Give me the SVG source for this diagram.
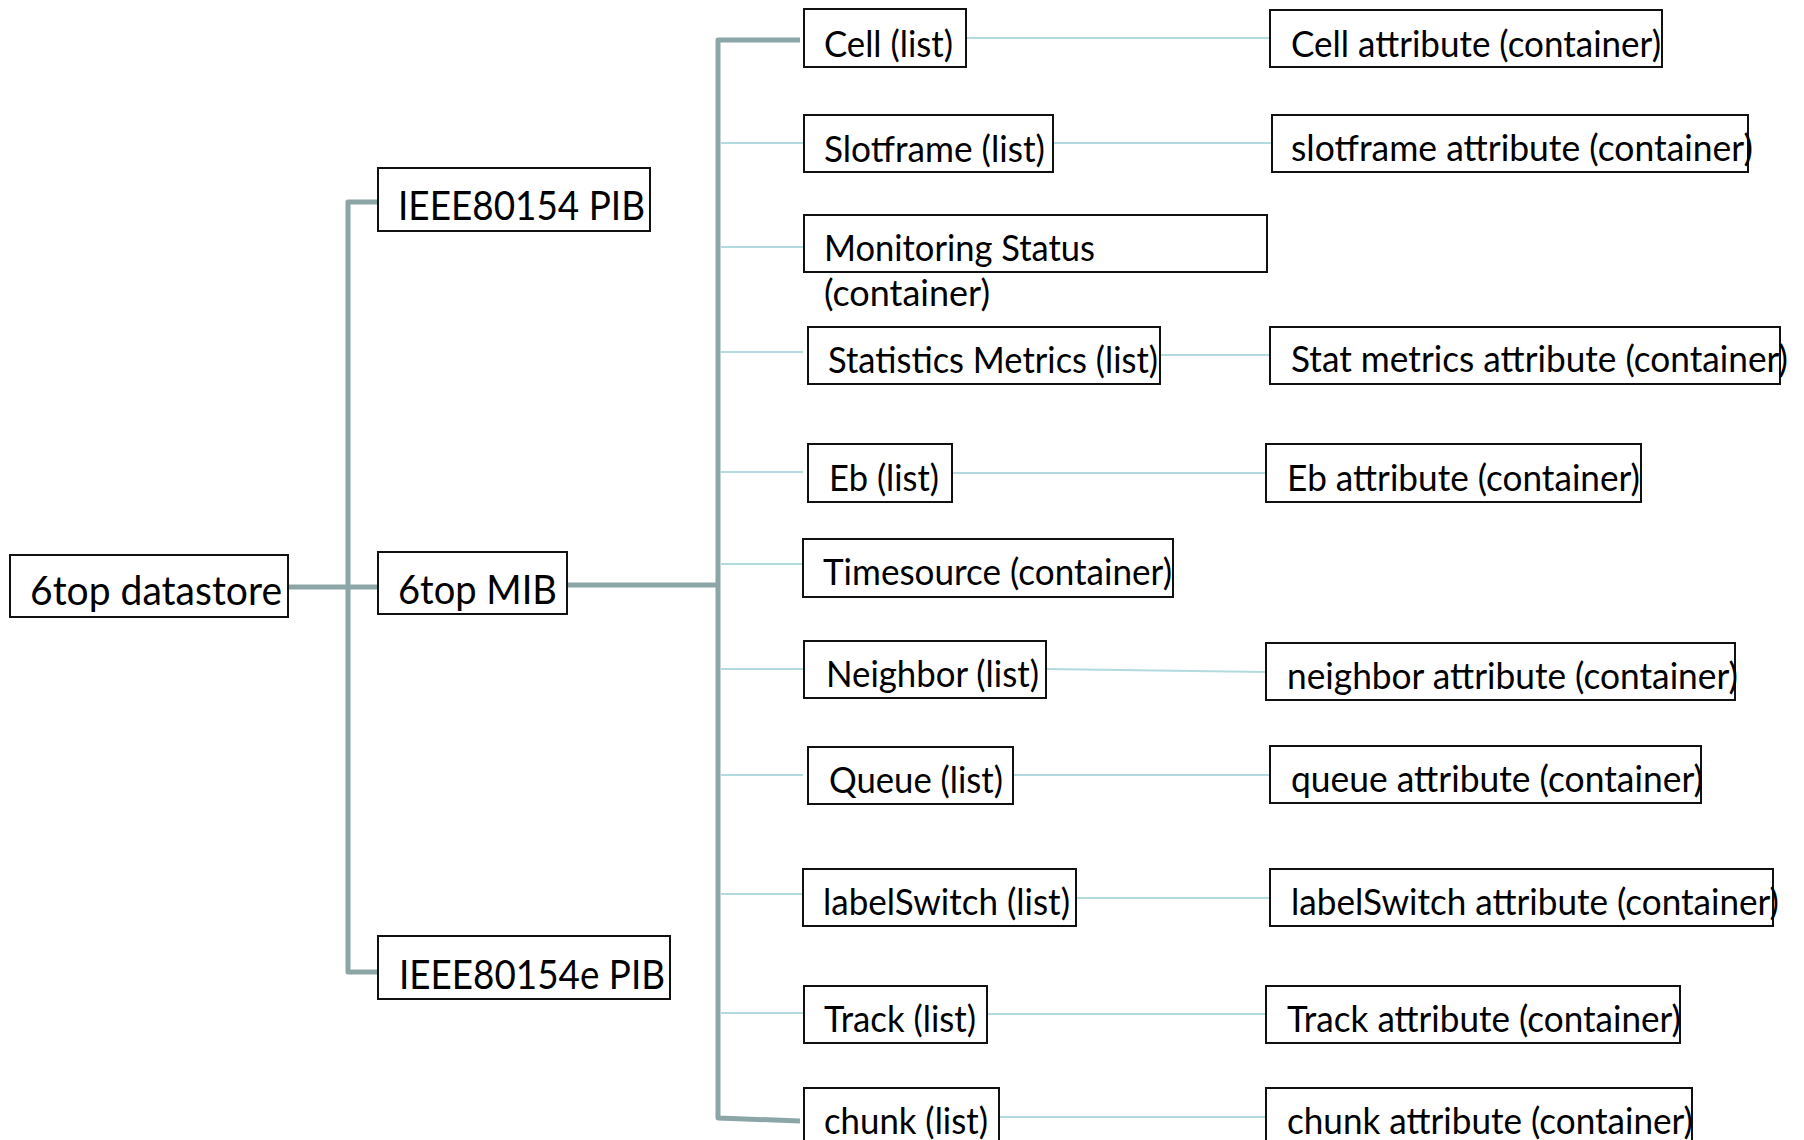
<svg xmlns="http://www.w3.org/2000/svg" width="1804" height="1140" viewBox="0 0 1804 1140">
  <style>
    .box { fill: #ffffff; stroke: #111111; stroke-width: 2; }
    .lbl { font-family: Lato, "Open Sans", "Liberation Sans", sans-serif; font-size: 36px; fill: #000000; }
    .big { font-size: 41px; }
    .trunk { fill: none; stroke: #8ca6a8; stroke-width: 5; stroke-linejoin: round; }
    .twig { fill: none; stroke: #b3dade; stroke-width: 2; }
  </style>
  <rect width="1804" height="1140" fill="#ffffff"/>

  <!-- connectors -->
  <g id="connectors">
    <path class="trunk" d="M378,202 H348 V972 H378"/>
    <path class="trunk" d="M288,587 H378"/>
    <path class="trunk" d="M567,585 H718"/>
    <path class="trunk" d="M800,40 H718 V1118 L800,1121"/>
    <path class="twig" d="M721,143 H803 M721,247 H803 M721,352 H803 M721,472 H803 M721,564 H803 M721,669 H803 M721,775 H803 M721,894 H803 M721,1013 H803"/>
    <path class="twig" d="M966,38 H1270"/>
    <path class="twig" d="M1053,143 H1272"/>
    <path class="twig" d="M1160,355 H1270"/>
    <path class="twig" d="M952,473 H1266"/>
    <path class="twig" d="M1046,669 L1266,672"/>
    <path class="twig" d="M1013,775 H1270"/>
    <path class="twig" d="M1076,898 H1270"/>
    <path class="twig" d="M987,1014 H1266"/>
    <path class="twig" d="M999,1117 H1266"/>
  </g>

  <!-- first tier -->
  <g id="datastore">
    <rect class="box" x="10" y="555" width="278" height="62"/>
    <text class="lbl big" x="30" y="605" textLength="252" lengthAdjust="spacingAndGlyphs">6top datastore</text>
  </g>
  <g id="pib">
    <rect class="box" x="378" y="168" width="272" height="63"/>
    <text class="lbl big" x="398" y="220" textLength="247" lengthAdjust="spacingAndGlyphs">IEEE80154 PIB</text>
  </g>
  <g id="mib">
    <rect class="box" x="378" y="552" width="189" height="62"/>
    <text class="lbl big" x="398" y="604" textLength="159" lengthAdjust="spacingAndGlyphs">6top MIB</text>
  </g>
  <g id="pib-e">
    <rect class="box" x="378" y="936" width="292" height="63"/>
    <text class="lbl big" x="399" y="989" textLength="266" lengthAdjust="spacingAndGlyphs">IEEE80154e PIB</text>
  </g>

  <!-- MIB entries -->
  <g id="cell">
    <rect class="box" x="804" y="9" width="162" height="58"/>
    <text class="lbl" x="824" y="57" textLength="129" lengthAdjust="spacingAndGlyphs">Cell (list)</text>
  </g>
  <g id="slotframe">
    <rect class="box" x="804" y="115" width="249" height="57"/>
    <text class="lbl" x="824" y="162" textLength="221" lengthAdjust="spacingAndGlyphs">Slotframe (list)</text>
  </g>
  <g id="monitoring">
    <rect class="box" x="804" y="215" width="463" height="57"/>
    <text class="lbl" x="824" y="261" textLength="271" lengthAdjust="spacingAndGlyphs">Monitoring Status</text>
    <text class="lbl" x="824" y="306" textLength="166" lengthAdjust="spacingAndGlyphs">(container)</text>
  </g>
  <g id="statistics">
    <rect class="box" x="808" y="327" width="352" height="57"/>
    <text class="lbl" x="828" y="373" textLength="330" lengthAdjust="spacingAndGlyphs">Statistics Metrics (list)</text>
  </g>
  <g id="eb">
    <rect class="box" x="808" y="444" width="144" height="58"/>
    <text class="lbl" x="829" y="491" textLength="110" lengthAdjust="spacingAndGlyphs">Eb (list)</text>
  </g>
  <g id="timesource">
    <rect class="box" x="803" y="539" width="370" height="58"/>
    <text class="lbl" x="823" y="585" textLength="349" lengthAdjust="spacingAndGlyphs">Timesource (container)</text>
  </g>
  <g id="neighbor">
    <rect class="box" x="804" y="641" width="242" height="57"/>
    <text class="lbl" x="826" y="687" textLength="213" lengthAdjust="spacingAndGlyphs">Neighbor (list)</text>
  </g>
  <g id="queue">
    <rect class="box" x="808" y="747" width="205" height="57"/>
    <text class="lbl" x="829" y="793" textLength="174" lengthAdjust="spacingAndGlyphs">Queue (list)</text>
  </g>
  <g id="labelswitch">
    <rect class="box" x="803" y="869" width="273" height="57"/>
    <text class="lbl" x="823" y="915" textLength="247" lengthAdjust="spacingAndGlyphs">labelSwitch (list)</text>
  </g>
  <g id="track">
    <rect class="box" x="804" y="986" width="183" height="57"/>
    <text class="lbl" x="824" y="1032" textLength="152" lengthAdjust="spacingAndGlyphs">Track (list)</text>
  </g>
  <g id="chunk">
    <rect class="box" x="804" y="1088" width="195" height="60"/>
    <text class="lbl" x="824" y="1134" textLength="164" lengthAdjust="spacingAndGlyphs">chunk (list)</text>
  </g>

  <!-- attribute containers -->
  <g id="cell-attr">
    <rect class="box" x="1270" y="10" width="392" height="57"/>
    <text class="lbl" x="1291" y="57" textLength="370" lengthAdjust="spacingAndGlyphs">Cell attribute (container)</text>
  </g>
  <g id="slotframe-attr">
    <rect class="box" x="1272" y="115" width="476" height="57"/>
    <text class="lbl" x="1291" y="161" textLength="462" lengthAdjust="spacingAndGlyphs">slotframe attribute (container)</text>
  </g>
  <g id="stat-attr">
    <rect class="box" x="1270" y="327" width="510" height="57"/>
    <text class="lbl" x="1291" y="372" textLength="497" lengthAdjust="spacingAndGlyphs">Stat metrics attribute (container)</text>
  </g>
  <g id="eb-attr">
    <rect class="box" x="1266" y="444" width="375" height="58"/>
    <text class="lbl" x="1287" y="491" textLength="353" lengthAdjust="spacingAndGlyphs">Eb attribute (container)</text>
  </g>
  <g id="neighbor-attr">
    <rect class="box" x="1266" y="643" width="469" height="57"/>
    <text class="lbl" x="1287" y="689" textLength="451" lengthAdjust="spacingAndGlyphs">neighbor attribute (container)</text>
  </g>
  <g id="queue-attr">
    <rect class="box" x="1270" y="746" width="431" height="57"/>
    <text class="lbl" x="1291" y="792" textLength="412" lengthAdjust="spacingAndGlyphs">queue attribute (container)</text>
  </g>
  <g id="labelswitch-attr">
    <rect class="box" x="1270" y="869" width="503" height="57"/>
    <text class="lbl" x="1291" y="915" textLength="488" lengthAdjust="spacingAndGlyphs">labelSwitch attribute (container)</text>
  </g>
  <g id="track-attr">
    <rect class="box" x="1266" y="986" width="414" height="57"/>
    <text class="lbl" x="1287" y="1032" textLength="394" lengthAdjust="spacingAndGlyphs">Track attribute (container)</text>
  </g>
  <g id="chunk-attr">
    <rect class="box" x="1266" y="1088" width="426" height="60"/>
    <text class="lbl" x="1287" y="1134" textLength="406" lengthAdjust="spacingAndGlyphs">chunk attribute (container)</text>
  </g>
</svg>
